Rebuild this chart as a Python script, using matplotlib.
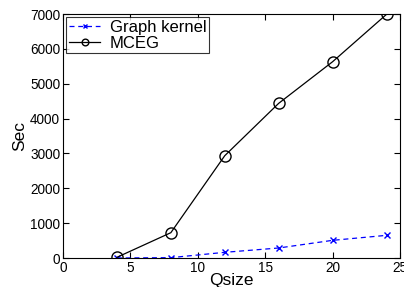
import matplotlib
matplotlib.use("Agg")
import matplotlib.pyplot as plt

qsize = [4, 8, 12, 16, 20, 24]
graph_kernel = [0, 10, 163, 287, 507, 650]
mceg = [20, 726, 2935, 4437, 5631, 6990]

plt.rcParams['font.family'] = ['Liberation Sans', 'DejaVu Sans']

fig = plt.figure(figsize=(4.04, 2.87), dpi=100)
ax = fig.add_axes([63/404, 1-258/287, (400-63)/404, (258-14)/287])

ax.plot(qsize, graph_kernel, color='blue', linestyle='--', marker='x',
        markersize=5, linewidth=0.9, dashes=(4, 3), label='Graph kernel')
ax.plot(qsize, mceg, color='black', linestyle='-', marker='o',
        markersize=8, markerfacecolor='none', linewidth=0.9, label='MCEG')

ax.set_xlim(0, 25)
ax.set_ylim(0, 7000)
ax.set_xticks([0, 5, 10, 15, 20, 25])
ax.set_yticks(range(0, 7001, 1000))
ax.tick_params(direction='in', top=True, right=True, labelsize=9.8, length=4, pad=2)
ax.set_xlabel('Qsize', fontsize=12.5, labelpad=-1)
ax.set_ylabel('Sec', fontsize=12.5, labelpad=2)
for s in ax.spines.values():
    s.set_linewidth(0.8)

leg = ax.legend(loc='upper left', fontsize=12, frameon=True, fancybox=False,
                edgecolor='black', handlelength=1.9, borderpad=0.15,
                labelspacing=0.05, handletextpad=0.55, borderaxespad=0.2,
                markerscale=0.6)
leg.get_frame().set_linewidth(0.8)

fig.savefig('out.png', dpi=100)
